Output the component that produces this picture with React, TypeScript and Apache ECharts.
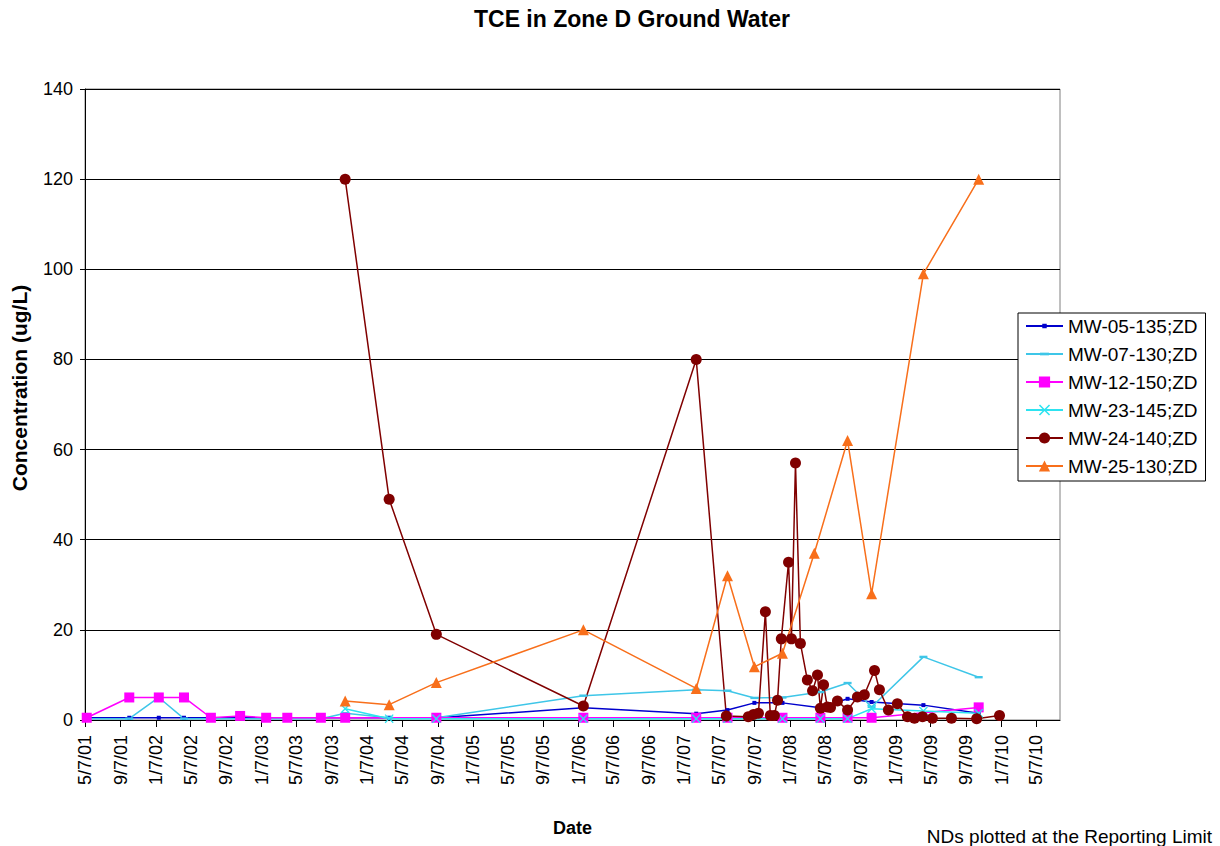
import { useEffect, useRef } from 'react';
import * as echarts from 'echarts';

const FONT = 'Arial, "Liberation Sans", sans-serif';

const xTickLabels = [
  '5/7/01', '9/7/01', '1/7/02', '5/7/02', '9/7/02', '1/7/03', '5/7/03', '9/7/03',
  '1/7/04', '5/7/04', '9/7/04', '1/7/05', '5/7/05', '9/7/05', '1/7/06', '5/7/06',
  '9/7/06', '1/7/07', '5/7/07', '9/7/07', '1/7/08', '5/7/08', '9/7/08', '1/7/09',
  '5/7/09', '9/7/09', '1/7/10', '5/7/10',
];
const xMinDate = '5/7/01';
const xMaxDate = '7/28/10';

const seriesNames = ['MW-05-135;ZD', 'MW-07-130;ZD', 'MW-12-150;ZD', 'MW-23-145;ZD', 'MW-24-140;ZD', 'MW-25-130;ZD'];

const mw05Dates = ['5/13/01', '10/7/01', '1/17/02', '4/14/02', '7/16/02', '10/25/02', '1/23/03', '4/6/03', '7/31/03', '10/23/03', '3/23/04', '9/2/04', '1/23/06', '2/17/07', '6/5/07', '9/6/07', '12/12/07', '4/21/08', '7/24/08', '10/15/08', '4/12/09', '10/20/09'];
const mw05Values = [0.5, 0.5, 0.5, 0.5, 0.5, 0.5, 0.5, 0.5, 0.5, 0.5, 0.5, 0.5, 2.7, 1.4, 2.2, 3.8, 3.8, 2.7, 4.7, 4.0, 3.3, 1.5];

const mw07Dates = ['5/13/01', '10/7/01', '1/17/02', '4/14/02', '7/16/02', '10/25/02', '1/23/03', '4/6/03', '7/31/03', '10/23/03', '3/23/04', '9/2/04', '1/23/06', '2/17/07', '6/5/07', '9/6/07', '12/12/07', '4/21/08', '7/24/08', '10/15/08', '4/12/09', '10/20/09'];
const mw07Values = [0.3, 0.3, 5, 0.3, 0.3, 0.3, 0.3, 0.3, 0.3, 1.5, 0.5, 0.5, 5.4, 6.7, 6.5, 4.9, 5.0, 6.2, 8.2, 2.9, 14, 9.5];

const mw12Dates = ['5/13/01', '10/7/01', '1/17/02', '4/14/02', '7/16/02', '10/25/02', '1/23/03', '4/6/03', '7/31/03', '10/23/03', '9/2/04', '1/23/06', '2/17/07', '6/5/07', '12/12/07', '4/21/08', '7/24/08', '10/15/08', '10/20/09'];
const mw12Values = [0.5, 5, 5, 5, 0.5, 0.9, 0.5, 0.5, 0.5, 0.5, 0.5, 0.5, 0.5, 0.5, 0.5, 0.5, 0.5, 0.5, 2.8];

const mw23Dates = ['10/23/03', '3/23/04', '9/2/04', '1/23/06', '2/17/07', '6/5/07', '12/12/07', '4/21/08', '7/24/08', '10/15/08', '4/12/09', '10/20/09'];
const mw23Values = [2.5, 0.3, 0.3, 0.3, 0.3, 0.3, 0.3, 0.3, 0.3, 2.5, 2.0, 1.5];

const mw24Dates = ['10/23/03', '3/23/04', '9/2/04', '1/23/06', '2/17/07', '6/1/07', '8/16/07', '9/3/07', '9/20/07', '10/14/07', '10/31/07', '11/14/07', '11/25/07', '12/8/07', '1/2/08', '1/12/08', '1/26/08', '2/12/08', '3/7/08', '3/25/08', '4/11/08', '4/21/08', '5/2/08', '5/15/08', '5/26/08', '6/19/08', '7/24/08', '8/27/08', '9/20/08', '10/25/08', '11/11/08', '12/12/08', '1/12/09', '2/16/09', '3/12/09', '4/9/09', '5/13/09', '7/18/09', '10/13/09', '12/31/09'];
const mw24Values = [120, 49, 19, 3.1, 80, 0.9, 0.7, 1.2, 1.5, 24, 1.0, 1.0, 4.4, 18, 35, 18, 57, 17, 8.9, 6.5, 10, 2.6, 7.8, 2.9, 2.8, 4.2, 2.2, 5.1, 5.6, 11, 6.7, 2.2, 3.6, 0.7, 0.4, 0.7, 0.4, 0.4, 0.3, 1.0];

const mw25Dates = ['10/23/03', '3/23/04', '9/2/04', '1/23/06', '2/17/07', '6/5/07', '9/6/07', '12/12/07', '3/31/08', '7/24/08', '10/15/08', '4/12/09', '10/20/09'];
const mw25Values = [4.2, 3.4, 8.3, 20, 7, 32, 11.8, 14.8, 37, 62, 28, 99, 120];

const DAY = 86400000;
function parseDate(s: string): number {
  const [m, d, y] = s.split('/').map(Number);
  return Math.round(Date.UTC(2000 + y, m - 1, d) / DAY);
}

function fmtDate(v: number): string {
  const d = new Date(Math.round(v) * DAY);
  return `${d.getUTCMonth() + 1}/${d.getUTCDate()}/${String(d.getUTCFullYear()).slice(2)}`;
}

const SYM_SMALL_SQ = 'path://M0,0M10,10M3,3H7V7H3Z';
const SYM_DASH = 'path://M0,0M10,10M1,3.8H9V6.2H1Z';
const SYM_X = 'path://M0,1L1,0L5,4L9,0L10,1L6,5L10,9L9,10L5,6L1,10L0,9L4,5Z';

function mkSeries(name: string, dates: string[], values: number[], color: string, symbol: string, size: number) {
  return {
    name,
    type: 'line',
    data: dates.map((d, i) => [parseDate(d), values[i]]),
    symbol,
    symbolSize: size,
    showSymbol: true,
    showAllSymbol: true,
    lineStyle: { color, width: 1.5 },
    itemStyle: { color },
    emphasis: { disabled: true },
  };
}

export default function App() {
  const ref = useRef<HTMLDivElement>(null);
  useEffect(() => {
    if (!ref.current) return;
    const chart = echarts.init(ref.current, undefined, { renderer: 'svg' });
    const xTicks = xTickLabels.map(parseDate);
    const option = {
      animation: false,
      backgroundColor: '#ffffff',
      textStyle: { fontFamily: FONT },
      grid: {
        left: 85, width: 975, top: 89, height: 631,
        outerBoundsMode: 'none', containLabel: false,
        show: true, borderColor: '#808080', borderWidth: 1, backgroundColor: 'transparent',
      },
      graphic: [
        {
          type: 'text', x: 632, y: 19,
          style: { text: 'TCE in Zone D Ground Water', font: `bold 23px ${FONT}`, fill: '#000', textAlign: 'center', textVerticalAlign: 'middle' },
        },
        {
          type: 'text', x: 19, y: 388, rotation: Math.PI / 2,
          style: { text: 'Concentration (ug/L)', font: `bold 21px ${FONT}`, fill: '#000', textAlign: 'center', textVerticalAlign: 'middle' },
        },
        {
          type: 'text', x: 1212, y: 836,
          style: { text: 'NDs plotted at the Reporting Limit', font: `19px ${FONT}`, fill: '#000', textAlign: 'right', textVerticalAlign: 'middle' },
        },
      ],
      legend: {
        orient: 'vertical', left: 1018, top: 313,
        backgroundColor: '#fff', borderColor: '#000', borderWidth: 1, borderRadius: 0,
        padding: [3, 8, 5, 7], itemWidth: 37, itemHeight: 14, itemGap: 8,
        textStyle: { fontSize: 19, fontFamily: FONT, color: '#000', lineHeight: 20 },
        data: seriesNames,
      },
      xAxis: {
        type: 'value',
        min: parseDate(xMinDate),
        max: parseDate(xMaxDate),
        name: 'Date',
        nameLocation: 'middle',
        nameGap: 99,
        nameTextStyle: { fontSize: 18, fontWeight: 'bold', color: '#000', fontFamily: FONT },
        axisLine: { show: true, onZero: false, lineStyle: { color: '#000', width: 1 } },
        axisTick: { show: true, length: 7, inside: false, lineStyle: { color: '#000' }, customValues: xTicks },
        axisLabel: {
          rotate: 90, margin: 15, fontSize: 18, color: '#000', fontFamily: FONT,
          customValues: xTicks,
          formatter: (v: number) => fmtDate(v),
          hideOverlap: false,
          showMinLabel: true, showMaxLabel: true,
        },
        splitLine: { show: false },
      },
      yAxis: {
        type: 'value', min: 0, max: 140, interval: 20,
        axisLine: { show: true, onZero: false, lineStyle: { color: '#000', width: 1 } },
        axisTick: { show: true, length: 5, lineStyle: { color: '#000' } },
        axisLabel: { margin: 12, fontSize: 18, color: '#000', fontFamily: FONT },
        splitLine: { show: true, lineStyle: { color: '#000', width: 1 } },
      },
      series: [
        mkSeries(seriesNames[0], mw05Dates, mw05Values, '#0000CC', SYM_SMALL_SQ, 10),
        mkSeries(seriesNames[1], mw07Dates, mw07Values, '#3EC6E8', SYM_DASH, 10),
        mkSeries(seriesNames[2], mw12Dates, mw12Values, '#FF00FF', 'rect', 10),
        mkSeries(seriesNames[3], mw23Dates, mw23Values, '#2DE3F0', SYM_X, 9),
        mkSeries(seriesNames[4], mw24Dates, mw24Values, '#800000', 'circle', 11),
        mkSeries(seriesNames[5], mw25Dates, mw25Values, '#F86F1B', 'triangle', 11),
      ],
    };
    chart.setOption(option as any);
    return () => chart.dispose();
  }, []);
  return <div ref={ref} style={{ position: 'absolute', left: 0, top: 0, width: 1220, height: 846, background: '#fff' }} />;
}
